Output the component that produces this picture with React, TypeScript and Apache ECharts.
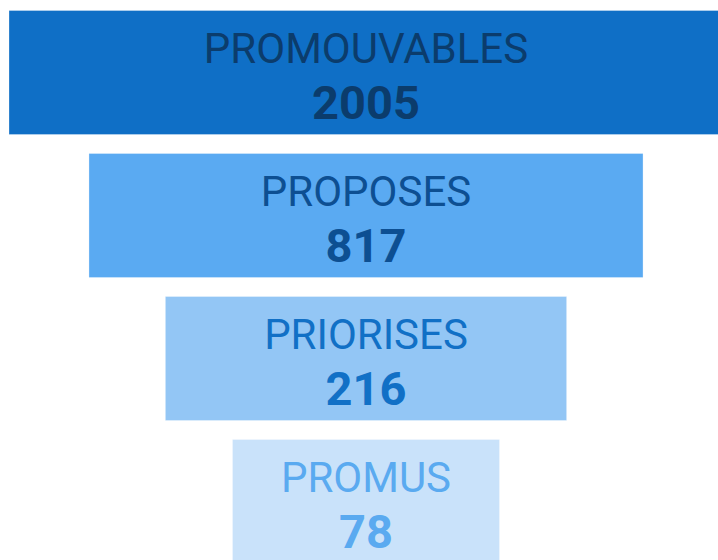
import React, { useEffect, useRef } from 'react';
import * as echarts from 'echarts';

const stages = ['PROMOUVABLES', 'PROPOSES', 'PRIORISES', 'PROMUS'];
const counts = [2005, 817, 216, 78];
// relative width of each funnel level (percent of the widest one)
const levelWidths = [100, 77.6, 56.2, 37.4];

const fills = ['#0F6FC6', '#5AAAF2', '#93C6F5', '#C9E2FA'];
const textColors = ['#0B3C6C', '#0D4F92', '#1170C6', '#5AAAF0'];

export default function App() {
  const ref = useRef<HTMLDivElement>(null);
  useEffect(() => {
    const chart = echarts.init(ref.current as HTMLDivElement, null, { renderer: 'svg' });
    chart.setOption({
      animation: false,
      grid: { left: 9, top: 1, width: 714, height: 572, outerBoundsMode: 'none', containLabel: false },
      xAxis: { type: 'value', min: -50, max: 50, show: false },
      yAxis: { type: 'category', data: stages, inverse: true, show: false },
      series: [
        {
          type: 'custom',
          data: stages.map((s, i) => [levelWidths[i], i, counts[i]]),
          encode: { x: 0, y: 1 },
          renderItem: (params: any, api: any) => {
            const i = params.dataIndex;
            const w = api.value(0) as number;
            const left = api.coord([-w / 2, i]);
            const right = api.coord([w / 2, i]);
            const band = api.size([0, 1])[1];
            const h = band - 19;
            const cx = (left[0] + right[0]) / 2;
            const cy = left[1];
            return {
              type: 'group',
              children: [
                {
                  type: 'rect',
                  shape: { x: left[0], y: cy - h / 2, width: right[0] - left[0], height: h },
                  style: { fill: fills[i], stroke: 'rgba(255,255,255,0.3)', lineWidth: 1 },
                },
                {
                  type: 'text',
                  x: cx,
                  y: cy - 24,
                  style: {
                    text: stages[i],
                    fill: textColors[i],
                    font: '42px Roboto',
                    align: 'center',
                    verticalAlign: 'middle',
                  },
                },
                {
                  type: 'text',
                  x: cx,
                  y: cy + 30,
                  style: {
                    text: String(api.value(2)),
                    fill: textColors[i],
                    font: 'bold 47px Roboto',
                    align: 'center',
                    verticalAlign: 'middle',
                  },
                },
              ],
            };
          },
        },
      ],
    });
    return () => chart.dispose();
  }, []);
  return (
    <div
      ref={ref}
      style={{ position: 'absolute', left: 0, top: 0, width: 718, height: 560 }}
    />
  );
}
